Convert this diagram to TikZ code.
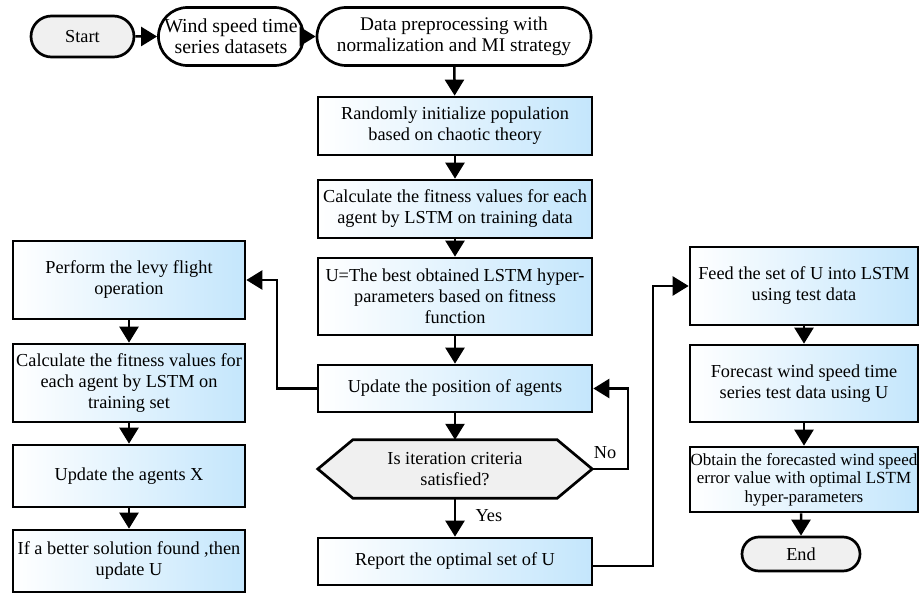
\documentclass[tikz,border=0pt]{standalone}
\usepackage{fontspec}
\setmainfont{Liberation Serif}
\usetikzlibrary{arrows.meta,shapes.misc}
\definecolor{boxblue}{RGB}{196,230,252}
\definecolor{termgray}{RGB}{240,240,240}
\begin{document}
\begin{tikzpicture}[x=1pt,y=-1pt,
  font=\fontsize{18.3}{21}\selectfont,
  base/.style={draw=black,line width=2.7pt,align=center,inner sep=1pt},
  proc/.style={base,rectangle,left color=white,right color=boxblue},
  term/.style={base,rounded rectangle,fill=termgray},
  io/.style={base,rounded rectangle,fill=white},
  conn/.style={line width=2.5pt,-{Triangle[length=16pt,width=19pt]}},
  lbl/.style={font=\fontsize{18.3}{21}\selectfont}]
\useasboundingbox (0,0) rectangle (923,596);
% top row
\node[term,minimum width=105pt,minimum height=41pt] (start) at (82.5,36.5) {Start};
\node[io,minimum width=142pt,minimum height=58pt,inner sep=0pt,font=\fontsize{19.8}{21}\selectfont] (wind) at (231,36.5) {Wind speed time\\series datasets};
\node[io,minimum width=276pt,minimum height=58pt,font=\fontsize{19.3}{21}\selectfont] (data) at (454,36.5) {Data preprocessing with\\normalization and MI strategy};
% main column
\node[proc,minimum width=274pt,minimum height=58pt] (rand) at (455,126) {Randomly initialize population\\based on chaotic theory};
\node[proc,minimum width=274pt,minimum height=58pt] (calc) at (455,209) {Calculate the fitness values for each\\agent by LSTM on training data};
\node[proc,minimum width=274pt,minimum height=77pt] (ubest) at (455,296.5) {U=The best obtained LSTM hyper-\\parameters based on fitness\\function};
\node[proc,minimum width=274pt,minimum height=47pt] (upd) at (455,388.5) {Update the position of agents};
\node[minimum width=274pt,minimum height=58pt,inner sep=0pt] (hex) at (455,469) {};
\draw[line width=2.7pt,fill=termgray] (hex.west) -- ([xshift=35pt]hex.north west) -- ([xshift=-35pt]hex.north east) -- (hex.east) -- ([xshift=-35pt]hex.south east) -- ([xshift=35pt]hex.south west) -- cycle;
\node[align=center] at (hex) {Is iteration criteria\\satisfied?};
\node[proc,minimum width=274pt,minimum height=47pt] (rep) at (455,561.5) {Report the optimal set of U};
% left column
\node[proc,minimum width=232pt,minimum height=78pt] (perf) at (129,280) {Perform the levy flight\\operation};
\node[proc,minimum width=232pt,minimum height=78pt] (calc2) at (129,383) {Calculate the fitness values for\\each agent by LSTM on\\training set};
\node[proc,minimum width=232pt,minimum height=62pt] (updx) at (129,476) {Update the agents X};
\node[proc,minimum width=232pt,minimum height=62pt] (better) at (129,561) {If a better solution found ,then\\update U};
% right column
\node[proc,minimum width=228pt,minimum height=78pt] (feed) at (804,286) {Feed the set of U into LSTM\\using test data};
\node[proc,minimum width=228pt,minimum height=77pt] (fore) at (804,383.5) {Forecast wind speed time\\series test data using U};
\node[proc,minimum width=228pt,minimum height=65pt,inner sep=0pt,font=\fontsize{17}{18.5}\selectfont] (obt) at (804,479.5) {Obtain the forecasted wind speed\\error value with optimal LSTM\\hyper-parameters};
\node[term,minimum width=118pt,minimum height=34pt,inner sep=0pt] (endn) at (801,554) {End};
% coordinates
\coordinate (noA) at (628,469);
\coordinate (noB) at (628,388.5);
\coordinate (lvA) at (277,388.5);
\coordinate (lvB) at (277,280);
\coordinate (rpA) at (653,566);
\coordinate (rpB) at (653,286);
% connectors
\draw[conn] (start) -- (wind);
\draw[conn] (wind) -- (data);
\draw[conn] (data) -- (rand);
\draw[conn] (rand) -- (calc);
\draw[conn] (calc) -- (ubest);
\draw[conn] (ubest) -- (upd);
\draw[conn] (upd) -- (hex.north);
\draw[conn] (hex.south) -- node[right=16pt,pos=0.45,lbl] {Yes} (rep);
\draw[conn] (hex.east) -- (noA) -- (noB) -- (upd.east);
\node[lbl] at (605,453) {No};
\draw[conn] (upd.west) -- (lvA) -- (lvB) -- (perf.east);
\draw[conn] (perf) -- (calc2);
\draw[conn] (calc2) -- (updx);
\draw[conn] (updx) -- (better);
\draw[conn] (rep.east |- rpA) -- (rpA) -- (rpB) -- (feed.west);
\draw[conn] (feed) -- (fore);
\draw[conn] (fore) -- (obt);
\draw[conn] (obt.south -| endn.north) -- (endn);
\end{tikzpicture}
\end{document}
